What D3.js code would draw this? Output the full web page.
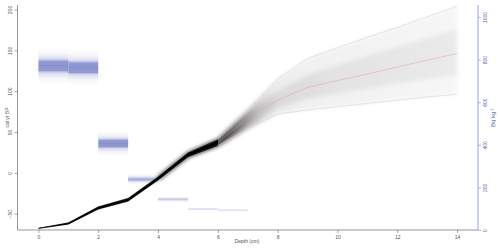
<!DOCTYPE html>
<html>
<head>
<meta charset="utf-8">
<script src="https://cdn.jsdelivr.net/npm/d3@7"></script>
<style>
  body { margin: 0; background: #fff; }
  svg { display: block; font-family: "Liberation Sans", Arial, sans-serif; }
</style>
</head>
<body>
<svg width="500" height="250"></svg>
<script>
// age-depth model (cal yr BP)
const depths = [0, 1, 2, 3, 4, 5, 6, 7, 8, 9, 10, 11, 12, 13, 14]
const ageMedian = [-68, -62, -43, -33, -7, 22, 37, 67, 89, 104.6, 113, 121, 129.5, 138, 146]
const ageLow95 = [-68.6, -63.3, -44.8, -35.2, -9.5, 19, 33, 54, 72, 77, 81, 85, 89, 93, 96]
const ageHigh95 = [-67.4, -60.7, -41.2, -30.8, -4.5, 25, 41, 77, 115, 140, 153, 166, 178, 191, 204]
const ageLow50 = [-68.3, -62.6, -43.9, -34.1, -8.2, 20.5, 35, 60, 80, 90, 97, 103, 109, 115, 120]
const ageHigh50 = [-67.7, -61.4, -42.1, -31.9, -5.8, 23.5, 39, 72, 100, 120, 132, 143, 154, 165, 176]

// 210Pb activity per slice (Bq kg-1)
const pbTop = [0, 1, 2, 3, 4, 5, 6]
const pbBottom = [1, 2, 3, 4, 5, 6, 7]
const pbActivity = [770, 762, 406, 238, 144, 98, 93]
const pbSd = [24, 24, 17, 8, 5, 3, 3]

const xTicks = [0, 2, 4, 6, 8, 10, 12, 14]
const ageTicks = [-50, 0, 50, 100, 150, 200]
const bqTicks = [0, 200, 400, 600, 800, 1000]

const svg = d3.select('svg')
const xScale = d3.scaleLinear().domain([-0.7, 14.7]).range([17.5, 478])
const yScale = d3.scaleLinear().domain([-70, 205.5]).range([230, 5])
const bqScale = d3.scaleLinear().domain([0, 1056]).range([230, 5])

const defs = svg.append('defs')

// cloud gradients (darkness follows how narrow the model is)
function cloudGrad(id, stops){
    const g = defs.append('linearGradient').attr('id', id)
        .attr('gradientUnits', 'userSpaceOnUse')
        .attr('x1', xScale(0)).attr('x2', xScale(14)).attr('y1', 0).attr('y2', 0)
    stops.forEach(s => g.append('stop').attr('offset', s[0] / 14).attr('stop-color', s[1]))
}
cloudGrad('outerG', [[0, '#000'], [5.8, '#0c0c0c'], [6.4, '#5a5a5a'], [7, '#b0b0b0'],
    [7.5, '#dadada'], [8, '#ebebeb'], [9, '#f1f1f1'], [14, '#f6f6f6']])
cloudGrad('innerG', [[0, '#000'], [6, '#080808'], [6.6, '#6a6a6a'], [7.3, '#bcbcbc'],
    [8, '#dadada'], [10, '#e3e3e3'], [14, '#eaeaea']])

const blur = defs.append('filter').attr('id', 'soft')
    .attr('x', '-5%').attr('y', '-10%').attr('width', '110%').attr('height', '120%')
blur.append('feGaussianBlur').attr('stdDeviation', 2)
const blurS = defs.append('filter').attr('id', 'softS')
    .attr('x', '-5%').attr('y', '-10%').attr('width', '110%').attr('height', '120%')
blurS.append('feGaussianBlur').attr('stdDeviation', 0.5)

const pbGrad = defs.append('linearGradient').attr('id', 'pbG')
    .attr('x1', 0).attr('y1', 0).attr('x2', 0).attr('y2', 1)
const pbStops = [[0, 0], [0.15, 0.06], [0.28, 0.22], [0.355, 0.5], [0.36, 0.72], [0.5, 0.82],
    [0.64, 0.72], [0.645, 0.5], [0.72, 0.22], [0.85, 0.06], [1, 0]]
pbStops.forEach(s => pbGrad.append('stop').attr('offset', s[0])
    .attr('stop-color', '#6f78c4').attr('stop-opacity', s[1]))

// 210Pb boxes, narrow ones drawn fainter as in the original
const pb = pbTop.map((t, i) => ({top: t, bottom: pbBottom[i], v: pbActivity[i], sd: pbSd[i]}))
const fade = d => Math.max(0.25, Math.min(1, d.sd / 12))
const pbG = svg.append('g')
pbG.selectAll('rect').data(pb).enter().append('rect')
    .attr('x', d => xScale(d.top))
    .attr('width', d => xScale(d.bottom) - xScale(d.top))
    .attr('y', d => bqScale(d.v + 3.5 * d.sd))
    .attr('height', d => bqScale(d.v - 3.5 * d.sd) - bqScale(d.v + 3.5 * d.sd))
    .attr('fill', 'url(#pbG)')
    .attr('opacity', fade)
pb.forEach(d => {
    const lines = d.sd > 10 ? [d.v - d.sd, d.v + d.sd] : [d.v]
    lines.forEach(v => {
        pbG.append('line')
            .attr('x1', xScale(d.top)).attr('x2', xScale(d.bottom))
            .attr('y1', bqScale(v)).attr('y2', bqScale(v))
            .attr('stroke', '#5560b4').attr('stroke-width', 0.5)
            .attr('stroke-dasharray', '0.8,0.8').attr('opacity', 0.55 * fade(d))
    })
})

// age-depth cloud
const model = depths.map((d, i) => ({d, med: ageMedian[i], lo: ageLow95[i], hi: ageHigh95[i],
    lo50: ageLow50[i], hi50: ageHigh50[i]}))
const band = (lo, hi) => d3.area().x(d => xScale(d.d)).y0(d => yScale(d[lo])).y1(d => yScale(d[hi]))
const line = key => d3.line().x(d => xScale(d.d)).y(d => yScale(d[key]))
const wide = model.filter(d => d.d >= 4)
const narrow = model.filter(d => d.d <= 6.5)

const cloud = svg.append('g').attr('filter', 'url(#soft)')
cloud.append('path').datum(wide).attr('d', band('lo', 'hi')).attr('fill', 'url(#outerG)')
cloud.append('path').datum(wide).attr('d', band('lo50', 'hi50')).attr('fill', 'url(#innerG)')

svg.append('path').datum(model).attr('d', line('lo'))
    .attr('fill', 'none').attr('stroke', '#d4d4d4').attr('stroke-width', 0.6)
svg.append('path').datum(model).attr('d', line('hi'))
    .attr('fill', 'none').attr('stroke', '#d4d4d4').attr('stroke-width', 0.6)
svg.append('path').datum(model).attr('d', line('med'))
    .attr('fill', 'none').attr('stroke', '#e39a9a').attr('stroke-width', 0.6).attr('opacity', 0.8)

const core = svg.append('g').attr('filter', 'url(#softS)')
core.append('path').datum(narrow).attr('d', band('lo', 'hi')).attr('fill', '#1a1a1a')
core.append('path').datum(narrow).attr('d', band('lo50', 'hi50')).attr('fill', '#000')

// axes
const axisCol = '#6a6a6a'
const textCol = '#555'
const blue = '#7b93d6'

const xAxis = d3.axisBottom(xScale).tickValues(xTicks).tickSize(3).tickFormat(d3.format('d'))
const gx = svg.append('g').attr('transform', 'translate(0,230)').call(xAxis)
gx.select('.domain').remove()
gx.selectAll('line').attr('stroke', axisCol).attr('stroke-width', 0.6)
gx.selectAll('text').attr('y', 5).attr('dy', '0.71em').attr('font-size', 5).attr('fill', textCol)
    .attr('font-family', null)

const yAxis = d3.axisLeft(yScale).tickValues(ageTicks).tickSize(3).tickFormat(d3.format('d'))
const gy = svg.append('g').attr('transform', 'translate(17.5,0)').call(yAxis)
gy.select('.domain').remove()
gy.selectAll('line').attr('stroke', axisCol).attr('stroke-width', 0.6)
gy.selectAll('text').attr('x', null).attr('font-size', 5).attr('fill', textCol)
    .attr('font-family', null)
    .attr('text-anchor', 'middle')
    .attr('transform', 'translate(-7.5,0) rotate(-90)')
    .attr('dy', '0.35em')

const bqAxis = d3.axisRight(bqScale).tickValues(bqTicks).tickSize(3).tickFormat(d3.format('d'))
const gb = svg.append('g').attr('transform', 'translate(478,0)').call(bqAxis)
gb.select('.domain').remove()
gb.selectAll('line').attr('stroke', blue).attr('stroke-width', 0.6)
gb.selectAll('text').attr('x', null).attr('font-size', 5).attr('fill', '#4f66b8')
    .attr('font-family', null)
    .attr('text-anchor', 'middle')
    .attr('transform', 'translate(7,0) rotate(-90)')
    .attr('dy', '0.35em')

// frame lines
svg.append('line').attr('x1', 17.5).attr('x2', 17.5).attr('y1', 5).attr('y2', 230)
    .attr('stroke', axisCol).attr('stroke-width', 0.7)
svg.append('line').attr('x1', 17.5).attr('x2', 478).attr('y1', 230).attr('y2', 230)
    .attr('stroke', axisCol).attr('stroke-width', 0.7)
svg.append('line').attr('x1', 478).attr('x2', 478).attr('y1', 5).attr('y2', 230)
    .attr('stroke', blue).attr('stroke-width', 0.8)

// titles
svg.append('text').attr('transform', 'translate(7,117.5) rotate(-90)')
    .attr('text-anchor', 'middle').attr('dy', '0.35em')
    .attr('font-size', 5).attr('fill', textCol).text('cal yr BP')
svg.append('text').attr('x', 247).attr('y', 243)
    .attr('text-anchor', 'middle')
    .attr('font-size', 5).attr('fill', textCol).text('Depth (cm)')
const bqTitle = svg.append('text').attr('transform', 'translate(493,117.5) rotate(-90)')
    .attr('text-anchor', 'middle').attr('dy', '0.35em')
    .attr('font-size', 6).attr('fill', '#4f66b8')
bqTitle.append('tspan').text('Bq kg')
bqTitle.append('tspan').attr('dy', '-0.45em').attr('font-size', 4).text('-1')
</script>
</body>
</html>
